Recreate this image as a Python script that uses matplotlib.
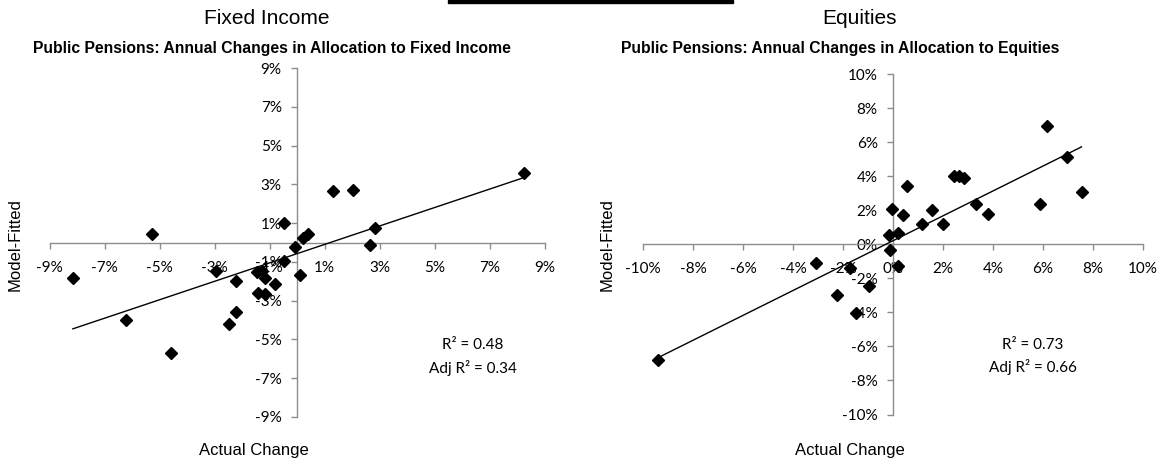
import matplotlib

matplotlib.use("Agg")
import matplotlib.pyplot as plt
import numpy as np
from matplotlib.patches import Rectangle

W, H = 1166, 466

# Fixed income: actual change vs model-fitted change (%)
fi_actual = [-8.15, -6.22, -5.28, -4.60, -2.93, -2.23, -2.23, -2.49, -1.46, -1.28,
             -1.16, -0.80, -1.42, -1.15, -0.47, -0.49, -0.08, 0.10, 0.22, 0.40,
             1.30, 2.04, 2.65, 2.82, 8.27]
fi_fitted = [-1.85, -4.00, 0.42, -5.70, -1.45, -2.00, -3.58, -4.20, -1.50, -1.45,
             -1.83, -2.12, -2.60, -2.65, 0.98, -0.95, -0.22, -1.68, 0.22, 0.45,
             2.67, 2.70, -0.15, 0.75, 3.61]

# Equities: actual change vs model-fitted change (%)
eq_actual = [-9.40, -3.10, -2.26, -1.72, -1.50, -0.97, -0.12, -0.16, -0.05, 0.20,
             0.20, 0.40, 0.56, 1.16, 1.57, 2.00, 2.44, 2.62, 2.85, 3.33,
             3.80, 5.87, 6.15, 6.95, 7.54]
eq_fitted = [-6.80, -1.10, -3.00, -1.42, -4.05, -2.45, -0.35, 0.55, 2.05, 0.65,
             -1.25, 1.70, 3.45, 1.20, 2.00, 1.20, 4.00, 4.00, 3.90, 2.37,
             1.80, 2.35, 6.92, 5.12, 3.08]

fi_ticks = [-9, -7, -5, -3, -1, 1, 3, 5, 7, 9]
fi_labels = ["-9%", "-7%", "-5%", "-3%", "-1%", "1%", "3%", "5%", "7%", "9%"]
eq_ticks = [-10, -8, -6, -4, -2, 0, 2, 4, 6, 8, 10]
eq_labels = ["-10%", "-8%", "-6%", "-4%", "-2%", "0%", "2%", "4%", "6%", "8%", "10%"]

fi_stats = ["R\u00b2 = 0.48", "Adj R\u00b2 = 0.34"]
eq_stats = ["R\u00b2 = 0.73", "Adj R\u00b2 = 0.66"]

AXIS_GREY = "#8c8c8c"
TICK_FONT = ["Lato", "DejaVu Sans"]
TEXT_FONT = ["Liberation Sans", "DejaVu Sans"]


def fig_rect(left, top, right, bottom):
    return [left / W, 1 - bottom / H, (right - left) / W, (bottom - top) / H]


def panel(fig, rect, actual, fitted, ticks, labels, lim, stats, stats_xy):
    ax = fig.add_axes(fig_rect(*rect))
    ax.set_xlim(-lim, lim)
    ax.set_ylim(-lim, lim)

    x = np.array(actual)
    y = np.array(fitted)
    slope, icpt = np.polyfit(x, y, 1)
    xs = np.array([x.min(), x.max()])
    ax.plot(xs, slope * xs + icpt, color="black", lw=1.0, zorder=3)
    ax.plot(x, y, "D", color="black", ms=6.2, zorder=4, clip_on=False)

    for side in ("top", "right"):
        ax.spines[side].set_visible(False)
    for side in ("left", "bottom"):
        ax.spines[side].set_position(("data", 0))
        ax.spines[side].set_color(AXIS_GREY)
        ax.spines[side].set_linewidth(1.0)

    ax.set_xticks(ticks, labels)
    ax.set_yticks(ticks, labels)
    ax.tick_params(direction="out", length=4, width=1, color=AXIS_GREY,
                   labelsize=11, labelcolor="black", labelfontfamily=TICK_FONT)
    ax.tick_params(axis="x", pad=9)
    ax.tick_params(axis="y", pad=7)

    sx, sy = stats_xy
    ax.text(sx, sy[0], stats[0], ha="center", va="center", fontsize=11, family=TICK_FONT)
    ax.text(sx, sy[1], stats[1], ha="center", va="center", fontsize=11, family=TICK_FONT)
    return ax


fig = plt.figure(figsize=(W / 100, H / 100), dpi=100)

panel(fig, (49.5, 68, 544.5, 417), fi_actual, fi_fitted, fi_ticks, fi_labels, 9,
      fi_stats, (6.4, (-5.3, -6.45)))
panel(fig, (643, 74, 1143, 414.5), eq_actual, eq_fitted, eq_ticks, eq_labels, 10,
      eq_stats, (5.6, (-5.9, -7.2)))

# headings, chart titles and axis titles
fig.text(267 / W, 1 - 18 / H, "Fixed Income", ha="center", va="center",
         fontsize=15, family=TEXT_FONT)
fig.text(860 / W, 1 - 18 / H, "Equities", ha="center", va="center",
         fontsize=15, family=TEXT_FONT)
fig.text(272 / W, 1 - 48 / H, "Public Pensions: Annual Changes in Allocation to Fixed Income",
         ha="center", va="center", fontsize=11.3, fontweight="bold", family=TEXT_FONT)
fig.text(840 / W, 1 - 48 / H, "Public Pensions: Annual Changes in Allocation to Equities",
         ha="center", va="center", fontsize=11.3, fontweight="bold", family=TEXT_FONT)
for cx in (254, 850):
    fig.text(cx / W, 1 - 450 / H, "Actual Change", ha="center", va="center",
             fontsize=12, family=TEXT_FONT)
for cx in (15, 607):
    fig.text(cx / W, 1 - 245 / H, "Model-Fitted", ha="center", va="center",
             rotation=90, fontsize=12, family=TEXT_FONT)

# thin black rule at the top edge
fig.patches.append(Rectangle((448 / W, 1 - 2.5 / H), 285 / W, 2.5 / H,
                             transform=fig.transFigure, color="black"))

fig.savefig("out.png", dpi=100)
